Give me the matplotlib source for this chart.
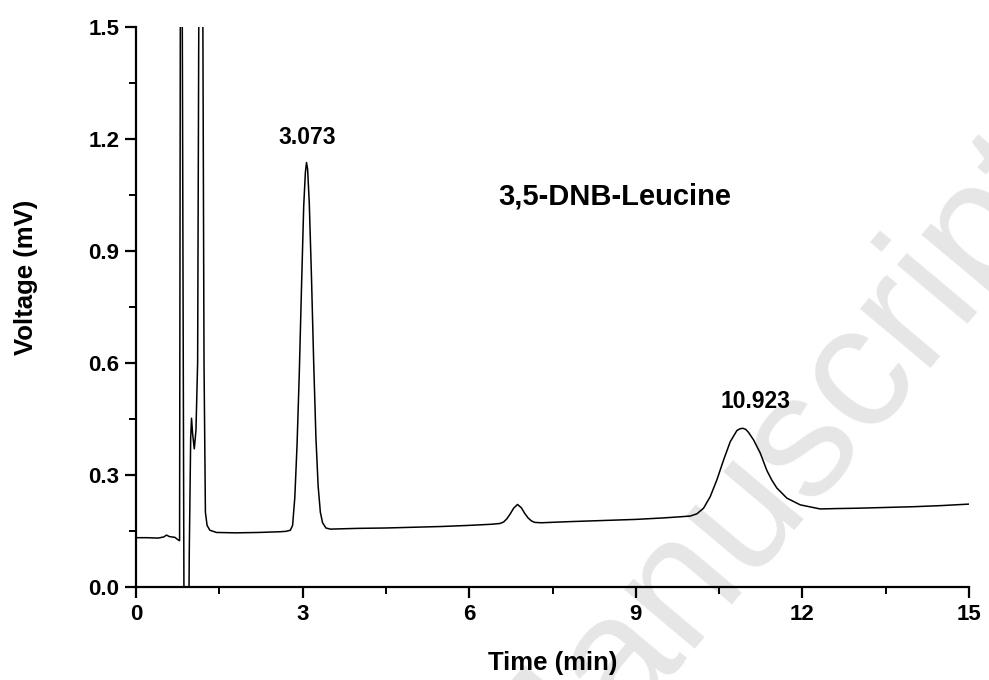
import matplotlib
matplotlib.use("Agg")
import matplotlib.pyplot as plt
from matplotlib.ticker import MultipleLocator

plt.rcParams["font.family"] = ["Liberation Sans", "DejaVu Sans"]

# trace (time in min, signal in mV)
time_min = [
    0.00, 0.20, 0.40, 0.50, 0.55, 0.60, 0.70, 0.76, 0.785,
    0.80, 0.83, 0.865, 0.95, 0.96, 0.985, 1.00, 1.02, 1.05, 1.08, 1.11,
    1.135, 1.20, 1.225, 1.25, 1.28, 1.33, 1.45, 1.80, 2.20, 2.60, 2.70,
    2.78, 2.82, 2.86, 2.90, 2.94, 2.98, 3.02, 3.05, 3.07, 3.09, 3.12,
    3.16, 3.20, 3.24, 3.28, 3.32, 3.36, 3.42, 3.50, 4.00, 4.50, 5.00,
    5.50, 6.00, 6.40, 6.55, 6.62, 6.68, 6.74, 6.80, 6.87, 6.94, 7.00,
    7.06, 7.12, 7.18, 7.30, 7.80, 8.40, 9.00, 9.50, 9.80, 9.98, 10.10,
    10.22, 10.34, 10.46, 10.58, 10.70, 10.82, 10.88, 10.93, 10.98, 11.03,
    11.12, 11.24, 11.36, 11.45, 11.54, 11.72, 11.96, 12.32, 12.60, 13.00,
    13.50, 14.00, 14.50, 15.00,
]
voltage = [
    0.132, 0.132, 0.131, 0.134, 0.139, 0.135, 0.133, 0.126, 0.124,
    1.70, 1.70, -0.10, -0.10, 0.10, 0.40, 0.452, 0.41, 0.37, 0.42, 0.60,
    1.70, 1.70, 0.60, 0.20, 0.165, 0.152, 0.146, 0.145, 0.146, 0.148, 0.149,
    0.152, 0.165, 0.24, 0.38, 0.57, 0.80, 1.02, 1.11, 1.137, 1.12, 1.03,
    0.83, 0.60, 0.40, 0.27, 0.20, 0.172, 0.158, 0.155, 0.157, 0.158, 0.160,
    0.162, 0.165, 0.168, 0.170, 0.174, 0.183, 0.196, 0.211, 0.221, 0.212, 0.197,
    0.185, 0.177, 0.173, 0.172, 0.175, 0.178, 0.181, 0.185, 0.188, 0.190, 0.196,
    0.211, 0.242, 0.287, 0.340, 0.389, 0.419, 0.424, 0.425, 0.422, 0.414,
    0.394, 0.359, 0.312, 0.286, 0.265, 0.238, 0.220, 0.209, 0.210, 0.211,
    0.213, 0.215, 0.218, 0.222,
]

peak_times = ["3.073", "10.923"]
peak_label_x = [3.08, 11.15]
peak_label_y = [1.203, 0.496]
sample_name = "3,5-DNB-Leucine"

fig = plt.figure(figsize=(9.89, 6.80), dpi=100)
ax = fig.add_axes([0.1375, 0.1368, 0.8423, 0.8235])
ax.set_facecolor("none")

# faint journal watermark behind the trace
fig.text(0.775, 0.30, "Manuscript", rotation=50, fontsize=125,
         color="#e6e6e6", ha="center", va="center", zorder=-1)

ax.plot(time_min, voltage, color="black", lw=1.1)

ax.set_xlim(0, 15)
ax.set_ylim(0, 1.5)
ax.xaxis.set_major_locator(MultipleLocator(3))
ax.xaxis.set_minor_locator(MultipleLocator(1.5))
ax.yaxis.set_major_locator(MultipleLocator(0.3))
ax.yaxis.set_minor_locator(MultipleLocator(0.15))
ax.yaxis.set_major_formatter(plt.FormatStrFormatter("%.1f"))

for side in ["top", "right"]:
    ax.spines[side].set_visible(False)
for side in ["left", "bottom"]:
    ax.spines[side].set_linewidth(1.6)

ax.tick_params(which="major", direction="out", length=8, width=1.6,
               labelsize=16, pad=4)
ax.tick_params(which="minor", direction="out", length=5, width=1.4)
for lab in ax.get_xticklabels() + ax.get_yticklabels():
    lab.set_fontweight("bold")

ax.set_xlabel("Time (min)", fontsize=18.5, fontweight="bold")
ax.set_ylabel("Voltage (mV)", fontsize=18.5, fontweight="bold")
ax.xaxis.label.set_va("center")
ax.yaxis.label.set_va("center")
ax.xaxis.set_label_coords(0.5, -0.136)
ax.yaxis.set_label_coords(-0.132, 0.553)

for lbl, x, y in zip(peak_times, peak_label_x, peak_label_y):
    ax.text(x, y, lbl, fontsize=16.5, fontweight="bold", ha="center", va="center")
ax.text(8.63, 1.045, sample_name, fontsize=21, fontweight="bold",
        ha="center", va="center")

fig.savefig("out.png", dpi=100)
